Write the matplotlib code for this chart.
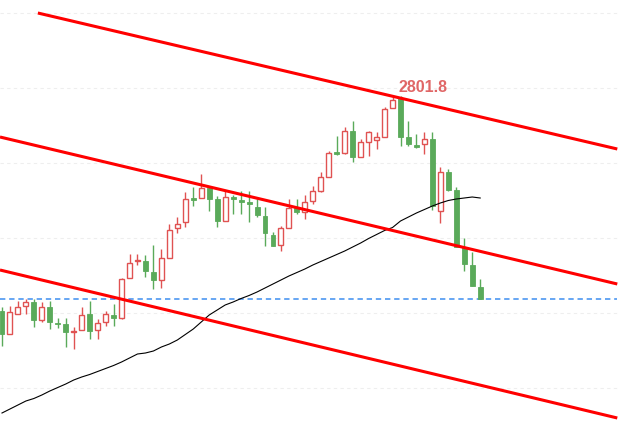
import matplotlib
matplotlib.use("Agg")
import matplotlib.pyplot as plt
import numpy as np

# ---- data ----
opens = [2715.8, 2706.6, 2714.6, 2717.8, 2719.4, 2712.2, 2717.4, 2711.2, 2710.6, 2707.4,
         2708.2, 2714.6, 2708.2, 2711.4, 2714.2, 2713.0, 2729.0, 2735.8, 2735.8, 2731.4,
         2728.2, 2737.0, 2749.0, 2751.4, 2760.8, 2761.0, 2765.0, 2760.6, 2751.8, 2761.2,
         2760.2, 2759.4, 2757.4, 2753.8, 2746.2, 2742.2, 2749.0, 2757.0, 2755.4, 2759.8,
         2763.8, 2769.4, 2779.2, 2779.0, 2787.8, 2777.4, 2783.4, 2784.2, 2785.4, 2797.0,
         2801.0, 2785.4, 2782.0, 2782.6, 2784.6, 2755.8, 2771.4, 2764.2, 2741.4, 2734.2,
         2725.4]
highs = [2717.4, 2717.8, 2719.8, 2720.6, 2720.6, 2719.4, 2719.8, 2713.0, 2713.0, 2709.4,
         2717.4, 2719.8, 2712.6, 2715.8, 2718.6, 2729.0, 2738.6, 2738.6, 2738.2, 2742.2,
         2740.6, 2750.6, 2753.4, 2763.4, 2765.4, 2770.6, 2765.8, 2761.8, 2763.8, 2762.2,
         2763.8, 2763.8, 2760.6, 2757.4, 2747.4, 2749.8, 2760.6, 2760.6, 2762.2, 2765.8,
         2771.4, 2779.8, 2785.8, 2789.4, 2791.8, 2784.6, 2787.8, 2787.4, 2797.4, 2801.4,
         2801.8, 2791.8, 2786.6, 2787.4, 2787.4, 2773.4, 2772.6, 2765.4, 2745.0, 2739.4,
         2728.6]
lows = [2701.8, 2706.6, 2714.6, 2714.6, 2709.4, 2711.4, 2708.6, 2709.0, 2701.4, 2700.6,
        2708.2, 2704.6, 2704.6, 2709.8, 2709.8, 2712.6, 2729.0, 2734.2, 2729.4, 2724.6,
        2725.0, 2737.0, 2747.0, 2749.4, 2757.8, 2761.0, 2755.8, 2749.4, 2751.8, 2754.6,
        2754.6, 2751.4, 2753.4, 2741.8, 2741.8, 2739.8, 2749.0, 2754.6, 2752.6, 2758.6,
        2763.4, 2769.4, 2778.2, 2778.6, 2775.4, 2777.4, 2777.8, 2780.6, 2785.4, 2797.0,
        2781.8, 2781.8, 2781.0, 2778.6, 2756.2, 2751.0, 2763.8, 2741.4, 2731.8, 2725.8,
        2720.6]
closes = [2706.6, 2715.4, 2717.4, 2719.4, 2712.2, 2717.4, 2711.4, 2710.6, 2707.4, 2707.8,
          2714.2, 2707.8, 2711.0, 2714.6, 2713.0, 2728.6, 2735.0, 2736.2, 2731.8, 2728.2,
          2737.0, 2748.2, 2750.6, 2760.6, 2760.4, 2765.0, 2760.6, 2751.8, 2761.4, 2760.8,
          2759.4, 2758.6, 2754.2, 2747.0, 2741.8, 2749.0, 2757.0, 2755.4, 2759.4, 2763.8,
          2769.4, 2779.0, 2778.8, 2787.8, 2777.4, 2783.4, 2787.4, 2785.4, 2796.6, 2800.2,
          2785.4, 2782.6, 2781.6, 2784.6, 2757.8, 2771.4, 2764.2, 2741.4, 2734.6, 2725.8,
          2720.6]
ma = [2675.0, 2676.6, 2678.2, 2679.8, 2680.8, 2682.2, 2683.8, 2685.2, 2686.6, 2688.2,
      2689.4, 2690.4, 2691.6, 2692.8, 2694.0, 2695.4, 2697.0, 2698.6, 2699.0, 2699.8,
      2701.4, 2702.6, 2704.2, 2706.4, 2708.6, 2711.4, 2714.2, 2716.2, 2718.2, 2719.4,
      2720.8, 2722.0, 2723.4, 2725.0, 2726.6, 2728.2, 2729.8, 2731.2, 2732.6, 2734.2,
      2735.6, 2737.0, 2738.4, 2739.8, 2741.4, 2743.0, 2744.8, 2746.4, 2748.0, 2749.2,
      2751.8, 2753.4, 2755.0, 2756.4, 2757.8, 2759.0, 2760.0, 2760.6, 2761.0, 2761.4,
      2761.0]

# channel lines: (start bar, start price, end bar, end price)
channel_x0 = [4.5, -0.25, -0.25]
channel_p0 = [2835.0, 2785.4, 2732.2]
channel_x1 = [77.2, 77.2, 77.2]
channel_p1 = [2780.6, 2726.6, 2673.0]

grid_levels = [2685, 2715, 2745, 2775, 2805, 2835]

# ---- drawing ----
RED = "#e05252"
GREEN = "#5aaa5a"

fig = plt.figure(figsize=(6.31, 4.27), dpi=100)
ax = fig.add_axes([0, 0, 1, 1])
ax.set_xlim(-0.25, 78.92)
ax.set_ylim(2669.8, 2840.6)
ax.axis("off")

right_end = 77.2
for g in grid_levels:
    ax.hlines(g, -0.25, right_end, colors="#eeeeee", linewidth=0.8,
              linestyles=(0, (3, 3)), zorder=0)

n = len(opens)
idx = np.arange(n)
for i in range(n):
    o, h, l, c = opens[i], highs[i], lows[i], closes[i]
    up = c >= o
    col = RED if up else GREEN
    ax.vlines(i, l, h, colors=col, linewidth=1.0, zorder=2)
    bottom = min(o, c)
    height = max(abs(c - o), 0.4)
    if up:
        ax.bar(i, height, bottom=bottom, width=0.62, facecolor="white",
               edgecolor=col, linewidth=1.0, zorder=3)
    else:
        ax.bar(i, height, bottom=bottom, width=0.62, facecolor=col,
               edgecolor=col, linewidth=0.6, zorder=3)

ax.plot(idx, ma, color="black", linewidth=0.8, zorder=4)

for x0, p0, x1, p1 in zip(channel_x0, channel_p0, channel_x1, channel_p1):
    ax.plot([x0, x1], [p0, p1], color="#ff0000", linewidth=2.2,
            solid_capstyle="butt", zorder=5)

ax.hlines(closes[-1], -0.25, right_end, colors="#3d8ef0", linewidth=1.1,
          linestyles=(0, (3.5, 2.5)), zorder=1)

imax = int(np.argmax(highs))
ax.text(imax - 0.3, highs[imax] + 2.0, f"{highs[imax]:.1f}", color="#e06666",
        fontsize=11.5, fontweight="bold", family="Liberation Sans",
        ha="left", va="baseline", zorder=6)

fig.savefig("out.png", dpi=100)
